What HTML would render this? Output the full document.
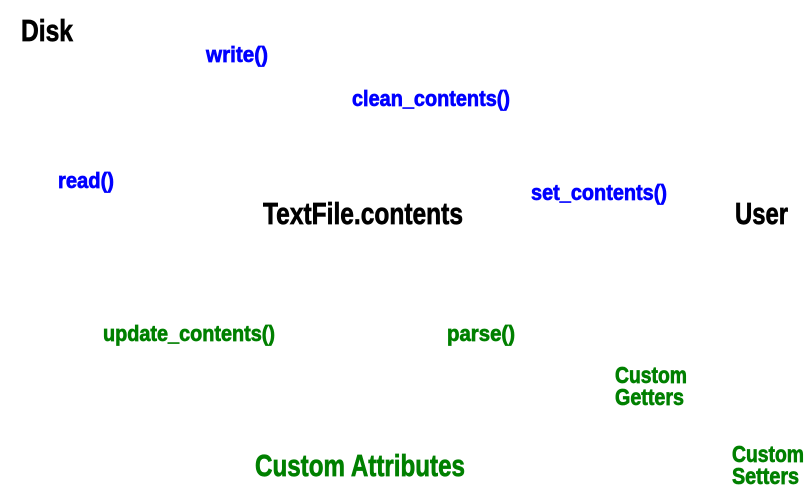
<!DOCTYPE html>
<html><head><style>
html,body{margin:0;padding:0;background:#fff;width:809px;height:496px;overflow:hidden}
text{font-family:"Liberation Sans",sans-serif;font-weight:bold;stroke-width:0.7}
</style></head><body>
<svg width="809" height="496" xmlns="http://www.w3.org/2000/svg">
<g fill="#000" stroke="#000" font-size="31">
<text x="21" y="41" textLength="52" lengthAdjust="spacingAndGlyphs">Disk</text>
<text x="263" y="224" textLength="200" lengthAdjust="spacingAndGlyphs">TextFile.contents</text>
<text x="735" y="224" textLength="53" lengthAdjust="spacingAndGlyphs">User</text>
</g>
<g fill="#0000ff" stroke="#0000ff" font-size="22">
<text x="206" y="62" textLength="62" lengthAdjust="spacingAndGlyphs">write()</text>
<text x="352" y="106" textLength="158" lengthAdjust="spacingAndGlyphs">clean_contents()</text>
<text x="58" y="188" textLength="56" lengthAdjust="spacingAndGlyphs">read()</text>
<text x="531" y="200" textLength="136" lengthAdjust="spacingAndGlyphs">set_contents()</text>
</g>
<g fill="#008000" stroke="#008000" font-size="22">
<text x="103" y="341" textLength="172" lengthAdjust="spacingAndGlyphs">update_contents()</text>
<text x="447" y="341" textLength="68" lengthAdjust="spacingAndGlyphs">parse()</text>
</g>
<g fill="#008000" stroke="#008000" font-size="23">
<text x="615" y="383" textLength="72" lengthAdjust="spacingAndGlyphs">Custom</text>
<text x="615" y="405" textLength="69" lengthAdjust="spacingAndGlyphs">Getters</text>
<text x="732" y="462" textLength="72" lengthAdjust="spacingAndGlyphs">Custom</text>
<text x="732" y="484" textLength="67" lengthAdjust="spacingAndGlyphs">Setters</text>
</g>
<text x="255" y="476" fill="#008000" stroke="#008000" font-size="31" textLength="210" lengthAdjust="spacingAndGlyphs">Custom Attributes</text>
</svg>
</body></html>
